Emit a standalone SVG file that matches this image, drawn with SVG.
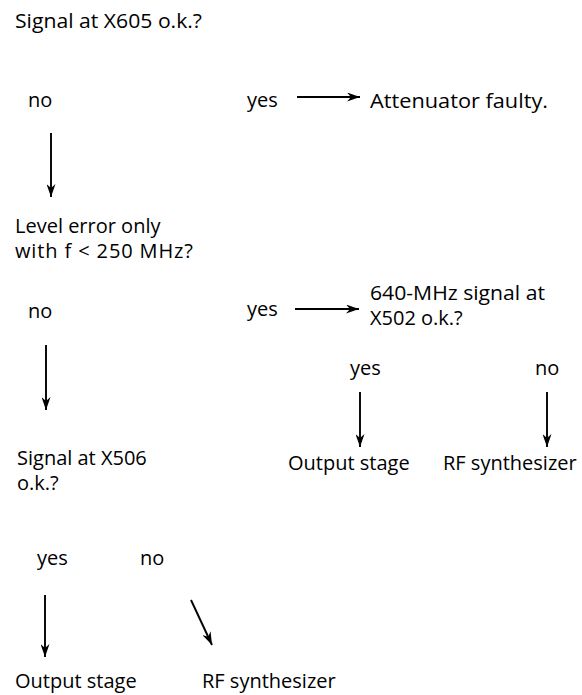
<svg xmlns="http://www.w3.org/2000/svg" width="582" height="695" viewBox="0 0 582 695">
<defs>
<marker id="ah" viewBox="0 0 13 9" refX="13" refY="4.5" markerWidth="13" markerHeight="9" markerUnits="userSpaceOnUse" orient="auto">
<path d="M0,0 L13,4.5 L0,9 L4,4.5 Z" fill="#000"/>
</marker>
</defs>
<style>
text{font-family:"Open Sans","DejaVu Sans",sans-serif;font-size:20px;fill:#000}
.c line{stroke:#000;stroke-width:1.9;fill:none;marker-end:url(#ah)}
</style>
<rect width="582" height="695" fill="#fff"/>
<g id="q1"><text x="15" y="28" textLength="187" lengthAdjust="spacingAndGlyphs">Signal at X605 o.k.?</text></g>
<g id="attenuator"><text x="370" y="108" textLength="178" lengthAdjust="spacingAndGlyphs">Attenuator faulty.</text></g>
<g id="q2"><text x="15" y="233">Level error only</text><text x="15" y="258" textLength="178" lengthAdjust="spacing">with f &lt; 250 MHz?</text></g>
<g id="q3"><text x="370" y="300" textLength="175" lengthAdjust="spacingAndGlyphs">640-MHz signal at</text><text x="370" y="325">X502 o.k.?</text></g>
<g id="out1"><text x="288" y="470">Output stage</text></g>
<g id="rf1"><text x="443" y="470">RF synthesizer</text></g>
<g id="q4"><text x="17" y="465">Signal at X506</text><text x="17" y="490">o.k.?</text></g>
<g id="out2"><text x="15" y="688">Output stage</text></g>
<g id="rf2"><text x="202" y="688">RF synthesizer</text></g>
<g id="labels">
<text x="28" y="107">no</text>
<text x="247" y="107">yes</text>
<text x="28" y="318">no</text>
<text x="247" y="316">yes</text>
<text x="350" y="375">yes</text>
<text x="535" y="375">no</text>
<text x="37" y="565">yes</text>
<text x="140" y="565">no</text>
</g>
<g id="connectors" class="c">
<line x1="297" y1="97" x2="360" y2="97"/>
<line x1="51" y1="133" x2="51" y2="197"/>
<line x1="295" y1="309" x2="359" y2="309"/>
<line x1="46" y1="345" x2="46" y2="410"/>
<line x1="360" y1="392" x2="360" y2="447"/>
<line x1="547" y1="392" x2="547" y2="447"/>
<line x1="45" y1="595" x2="45" y2="657"/>
<line x1="191" y1="600" x2="212" y2="645"/>
</g>
</svg>
